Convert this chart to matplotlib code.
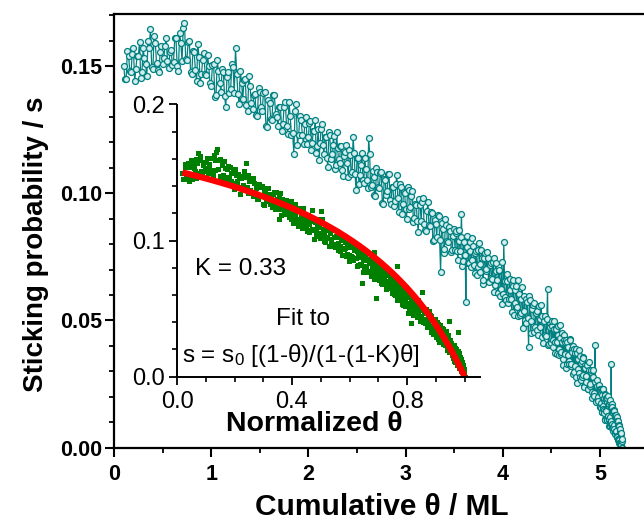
import matplotlib
matplotlib.use("Agg")
import matplotlib.pyplot as plt
import numpy as np
from matplotlib.ticker import MultipleLocator, FormatStrFormatter

plt.rcParams['font.family'] = ['Liberation Sans', 'DejaVu Sans']
plt.rcParams['mathtext.fontset'] = 'custom'
plt.rcParams['mathtext.rm'] = 'Liberation Sans'
plt.rcParams['mathtext.default'] = 'regular'

# Cumulative coverage (ML) and sticking probability, first pass of readings
theta_a = [
    0.100, 0.125, 0.150, 0.175, 0.200, 0.225, 0.250, 0.275, 0.300, 0.325,
    0.350, 0.375, 0.400, 0.425, 0.450, 0.475, 0.500, 0.525, 0.550, 0.575,
    0.600, 0.625, 0.650, 0.675, 0.700, 0.725, 0.750, 0.775, 0.800, 0.825,
    0.850, 0.875, 0.900, 0.925, 0.950, 0.975, 1.000, 1.025, 1.050, 1.075,
    1.100, 1.125, 1.150, 1.175, 1.200, 1.225, 1.250, 1.275, 1.300, 1.325,
    1.350, 1.375, 1.400, 1.425, 1.450, 1.475, 1.500, 1.525, 1.550, 1.575,
    1.600, 1.625, 1.650, 1.675, 1.700, 1.725, 1.750, 1.775, 1.800, 1.825,
    1.850, 1.875, 1.900, 1.925, 1.950, 1.975, 2.000,
    2.02, 2.04, 2.06, 2.08, 2.10, 2.12, 2.14, 2.16, 2.18, 2.20,
    2.22, 2.24, 2.26, 2.28, 2.30, 2.32, 2.34, 2.36, 2.38, 2.40,
    2.42, 2.44, 2.46, 2.48, 2.50, 2.52, 2.54, 2.56, 2.58, 2.60,
    2.62, 2.64, 2.66, 2.68, 2.70, 2.72, 2.74, 2.76, 2.78, 2.80,
    2.82, 2.84, 2.86, 2.88, 2.90, 2.92, 2.94, 2.96, 2.98, 3.00,
    3.02, 3.04, 3.06, 3.08, 3.10, 3.12, 3.14, 3.16, 3.18, 3.20,
    3.22, 3.24, 3.26, 3.28, 3.30, 3.32, 3.34, 3.36, 3.38, 3.40,
    3.42, 3.44, 3.46, 3.48, 3.50,
    3.515, 3.530, 3.545, 3.560, 3.575, 3.590, 3.605, 3.620, 3.635, 3.650,
    3.665, 3.680, 3.695, 3.710, 3.725, 3.740, 3.755, 3.770, 3.785, 3.800,
    3.815, 3.830, 3.845, 3.860, 3.875, 3.890, 3.905, 3.920, 3.935, 3.950,
    3.965, 3.980, 3.995, 4.010, 4.025, 4.040, 4.055, 4.070, 4.085, 4.100,
    4.115, 4.130, 4.145, 4.160, 4.175, 4.190, 4.205, 4.220, 4.235, 4.250,
    4.265, 4.280, 4.295, 4.310, 4.325, 4.340, 4.355, 4.370, 4.385, 4.400,
    4.415, 4.430, 4.445, 4.460, 4.475, 4.490,
    4.50, 4.51, 4.52, 4.53, 4.54, 4.55, 4.56, 4.57, 4.58, 4.59,
    4.60, 4.61, 4.62, 4.63, 4.64, 4.65, 4.66, 4.67, 4.68, 4.69,
    4.70, 4.71, 4.72, 4.73, 4.74, 4.75, 4.76, 4.77, 4.78, 4.79,
    4.80, 4.81, 4.82, 4.83, 4.84, 4.85, 4.86, 4.87, 4.88, 4.89,
    4.90, 4.91, 4.92, 4.93, 4.94, 4.95, 4.96, 4.97, 4.98, 4.99,
    5.000, 5.005, 5.010, 5.015, 5.020, 5.025, 5.030, 5.035, 5.040, 5.045,
    5.050, 5.055, 5.060, 5.065, 5.070, 5.075, 5.080, 5.085, 5.090, 5.095,
    5.100, 5.105, 5.110, 5.115, 5.120, 5.125, 5.130, 5.135, 5.140, 5.145,
    5.150, 5.155, 5.160, 5.165, 5.170, 5.175, 5.180, 5.185, 5.190, 5.195,
    5.200, 5.205, 5.210, 5.215, 5.220, 5.225, 5.230,
]

s_a = [
    0.1500, 0.1450, 0.1540, 0.1475, 0.1570, 0.1490, 0.1540, 0.1455, 0.1570, 0.1510,
    0.1600, 0.1645, 0.1490, 0.1590, 0.1485, 0.1555, 0.1510, 0.1580, 0.1520, 0.1555,
    0.1505, 0.1610, 0.1500, 0.1630, 0.1520, 0.1670, 0.1525, 0.1600, 0.1470, 0.1555,
    0.1440, 0.1535, 0.1470, 0.1550, 0.1465, 0.1500, 0.1420, 0.1510, 0.1385, 0.1480,
    0.1400, 0.1475, 0.1340, 0.1475, 0.1410, 0.1495, 0.1570, 0.1390, 0.1480, 0.1370,
    0.1450, 0.1325, 0.1420, 0.1330, 0.1390, 0.1305, 0.1400, 0.1325, 0.1400, 0.1260,
    0.1355, 0.1290, 0.1385, 0.1300, 0.1340, 0.1245, 0.1340, 0.1265, 0.1360, 0.1230,
    0.1155, 0.1350, 0.1230, 0.1290, 0.1195, 0.1300, 0.1220,
    0.1284, 0.1199, 0.1243, 0.1158, 0.1252, 0.1196, 0.1271, 0.1155, 0.1220, 0.1104,
    0.1228, 0.1153, 0.1227, 0.1112, 0.1176, 0.1120, 0.1185, 0.1069, 0.1164, 0.1118,
    0.1172, 0.1077, 0.1221, 0.1076, 0.1140, 0.1035, 0.1110, 0.1054, 0.1139, 0.1054,
    0.1219, 0.1024, 0.1088, 0.0993, 0.1098, 0.1023, 0.1078, 0.0962, 0.1057, 0.0992,
    0.1077, 0.0972, 0.1026, 0.0951, 0.1036, 0.0981, 0.1036, 0.0920, 0.1005, 0.0940,
    0.1024, 0.0937, 0.0991, 0.0885, 0.0958, 0.0892, 0.0976, 0.0889, 0.0983, 0.0856,
    0.0930, 0.0874, 0.0927, 0.0811, 0.0894, 0.0828, 0.0912, 0.0690, 0.0859, 0.0782,
    0.0876, 0.0810, 0.0853, 0.0777, 0.0860,
    0.0845, 0.0771, 0.0856, 0.0772, 0.0917, 0.0733, 0.0808, 0.0574, 0.0789, 0.0725,
    0.0810, 0.0736, 0.0791, 0.0687, 0.0772, 0.0708, 0.0803, 0.0689, 0.0744, 0.0660,
    0.0765, 0.0701, 0.0746, 0.0652, 0.0727, 0.0663, 0.0747, 0.0640, 0.0693, 0.0606,
    0.0700, 0.0623, 0.0566, 0.0809, 0.0592, 0.0656, 0.0569, 0.0662, 0.0585, 0.0659,
    0.0523, 0.0618, 0.0552, 0.0657, 0.0521, 0.0585, 0.0470, 0.0594, 0.0489, 0.0573,
    0.0397, 0.0582, 0.0496, 0.0560, 0.0455, 0.0529, 0.0464, 0.0558, 0.0472, 0.0517,
    0.0411, 0.0516, 0.0440, 0.0624, 0.0409, 0.0473,
    0.0410, 0.0496, 0.0421, 0.0467, 0.0372, 0.0468, 0.0413, 0.0479, 0.0364, 0.0430,
    0.0375, 0.0451, 0.0326, 0.0422, 0.0367, 0.0423, 0.0328, 0.0394, 0.0339, 0.0425,
    0.0320, 0.0386, 0.0291, 0.0387, 0.0322, 0.0388, 0.0253, 0.0349, 0.0294, 0.0360,
    0.0265, 0.0341, 0.0286, 0.0352, 0.0237, 0.0313, 0.0258, 0.0324, 0.0229, 0.0305,
    0.0250, 0.0303, 0.0196, 0.0279, 0.0202, 0.0405, 0.0178, 0.0241, 0.0184, 0.0247,
    0.0160, 0.0227, 0.0174, 0.0231, 0.0138, 0.0205, 0.0152, 0.0229, 0.0136, 0.0193,
    0.0110, 0.0207, 0.0144, 0.0191, 0.0108, 0.0195, 0.0122, 0.0169, 0.0086, 0.0173,
    0.0120, 0.0186, 0.0092, 0.0328, 0.0094, 0.0160, 0.0066, 0.0142, 0.0088, 0.0144,
    0.0060, 0.0126, 0.0061, 0.0126, 0.0041, 0.0106, 0.0041, 0.0106, 0.0030, 0.0084,
    0.0018, 0.0072, 0.0015, 0.0058, 0.0010, 0.0032, 0.0000,
]

# Second pass of readings, interleaved between the first
theta_b = [
    0.1125, 0.1375, 0.1625, 0.1875, 0.2125, 0.2375, 0.2625, 0.2875, 0.3125, 0.3375,
    0.3625, 0.3875, 0.4125, 0.4375, 0.4625, 0.4875, 0.5125, 0.5375, 0.5625, 0.5875,
    0.6125, 0.6375, 0.6625, 0.6875, 0.7125, 0.7375, 0.7625, 0.7875, 0.8125, 0.8375,
    0.8625, 0.8875, 0.9125, 0.9375, 0.9625, 0.9875, 1.0125, 1.0375, 1.0625, 1.0875,
    1.1125, 1.1375, 1.1625, 1.1875, 1.2125, 1.2375, 1.2625, 1.2875, 1.3125, 1.3375,
    1.3625, 1.3875, 1.4125, 1.4375, 1.4625, 1.4875, 1.5125, 1.5375, 1.5625, 1.5875,
    1.6125, 1.6375, 1.6625, 1.6875, 1.7125, 1.7375, 1.7625, 1.7875, 1.8125, 1.8375,
    1.8625, 1.8875, 1.9125, 1.9375, 1.9625, 1.9875,
    2.01, 2.03, 2.05, 2.07, 2.09, 2.11, 2.13, 2.15, 2.17, 2.19,
    2.21, 2.23, 2.25, 2.27, 2.29, 2.31, 2.33, 2.35, 2.37, 2.39,
    2.41, 2.43, 2.45, 2.47, 2.49, 2.51, 2.53, 2.55, 2.57, 2.59,
    2.61, 2.63, 2.65, 2.67, 2.69, 2.71, 2.73, 2.75, 2.77, 2.79,
    2.81, 2.83, 2.85, 2.87, 2.89, 2.91, 2.93, 2.95, 2.97, 2.99,
    3.01, 3.03, 3.05, 3.07, 3.09, 3.11, 3.13, 3.15, 3.17, 3.19,
    3.21, 3.23, 3.25, 3.27, 3.29, 3.31, 3.33, 3.35, 3.37, 3.39,
    3.41, 3.43, 3.45, 3.47, 3.49,
    3.508, 3.523, 3.538, 3.553, 3.568, 3.583, 3.598, 3.613, 3.628, 3.643,
    3.658, 3.673, 3.688, 3.703, 3.718, 3.733, 3.748, 3.763, 3.778, 3.793,
    3.808, 3.823, 3.838, 3.853, 3.868, 3.883, 3.898, 3.913, 3.928, 3.943,
    3.958, 3.973, 3.988, 4.003, 4.018, 4.033, 4.048, 4.063, 4.078, 4.093,
    4.108, 4.123, 4.138, 4.153, 4.168, 4.183, 4.198, 4.213, 4.228, 4.243,
    4.258, 4.273, 4.288, 4.303, 4.318, 4.333, 4.348, 4.363, 4.378, 4.393,
    4.408, 4.423, 4.438, 4.453, 4.468, 4.483,
    4.505, 4.515, 4.525, 4.535, 4.545, 4.555, 4.565, 4.575, 4.585, 4.595,
    4.605, 4.615, 4.625, 4.635, 4.645, 4.655, 4.665, 4.675, 4.685, 4.695,
    4.705, 4.715, 4.725, 4.735, 4.745, 4.755, 4.765, 4.775, 4.785, 4.795,
    4.805, 4.815, 4.825, 4.835, 4.845, 4.855, 4.865, 4.875, 4.885, 4.895,
    4.905, 4.915, 4.925, 4.935, 4.945, 4.955, 4.965, 4.975, 4.985, 4.995,
    5.0025, 5.0075, 5.0125, 5.0175, 5.0225, 5.0275, 5.0325, 5.0375, 5.0425, 5.0475,
    5.0525, 5.0575, 5.0625, 5.0675, 5.0725, 5.0775, 5.0825, 5.0875, 5.0925, 5.0975,
    5.1025, 5.1075, 5.1125, 5.1175, 5.1225, 5.1275, 5.1325, 5.1375, 5.1425, 5.1475,
    5.1525, 5.1575, 5.1625, 5.1675, 5.1725, 5.1775, 5.1825, 5.1875, 5.1925, 5.1975,
    5.2025, 5.2075, 5.2125, 5.2175, 5.2225, 5.2275,
]

s_b = [
    0.1450, 0.1560, 0.1480, 0.1548, 0.1440, 0.1540, 0.1593, 0.1478, 0.1530, 0.1460,
    0.1573, 0.1498, 0.1620, 0.1513, 0.1475, 0.1578, 0.1530, 0.1610, 0.1493, 0.1565,
    0.1518, 0.1610, 0.1480, 0.1590, 0.1650, 0.1528, 0.1593, 0.1475, 0.1558, 0.1483,
    0.1588, 0.1433, 0.1525, 0.1468, 0.1543, 0.1435, 0.1505, 0.1378, 0.1523, 0.1435,
    0.1488, 0.1383, 0.1458, 0.1393, 0.1508, 0.1393, 0.1470, 0.1350, 0.1435, 0.1445,
    0.1348, 0.1463, 0.1355, 0.1385, 0.1308, 0.1413, 0.1338, 0.1393, 0.1265, 0.1368,
    0.1293, 0.1388, 0.1313, 0.1265, 0.1338, 0.1273, 0.1358, 0.1233, 0.1305, 0.1238,
    0.1323, 0.1190, 0.1305, 0.1228, 0.1273, 0.1195,
    0.1277, 0.1171, 0.1246, 0.1290, 0.1185, 0.1129, 0.1253, 0.1188, 0.1222, 0.1137,
    0.1241, 0.1135, 0.1190, 0.1094, 0.1239, 0.1133, 0.1187, 0.1092, 0.1146, 0.1191,
    0.1065, 0.1149, 0.1084, 0.1158, 0.1013, 0.1137, 0.1072, 0.1157, 0.1041, 0.1096,
    0.1021, 0.1156, 0.1031, 0.1065, 0.0990, 0.1085, 0.1020, 0.1085, 0.0959, 0.1054,
    0.1009, 0.1074, 0.0959, 0.1023, 0.0968, 0.1073, 0.0928, 0.1023, 0.0957, 0.1002,
    0.0897, 0.1011, 0.0944, 0.1008, 0.0901, 0.0955, 0.0849, 0.0952, 0.0966, 0.0879,
    0.0853, 0.0967, 0.0870, 0.0924, 0.0817, 0.0881, 0.0915, 0.0818, 0.0882, 0.0765,
    0.0899, 0.0813, 0.0866, 0.0770, 0.0833,
    0.0777, 0.0853, 0.0738, 0.0814, 0.0829, 0.0715, 0.0810, 0.0756, 0.0831, 0.0727,
    0.0772, 0.0708, 0.0823, 0.0719, 0.0764, 0.0680, 0.0775, 0.0721, 0.0776, 0.0642,
    0.0747, 0.0693, 0.0768, 0.0654, 0.0719, 0.0665, 0.0730, 0.0613, 0.0726, 0.0660,
    0.0693, 0.0596, 0.0729, 0.0603, 0.0656, 0.0579, 0.0682, 0.0585, 0.0619, 0.0532,
    0.0636, 0.0570, 0.0635, 0.0519, 0.0604, 0.0528, 0.0632, 0.0537, 0.0501, 0.0586,
    0.0510, 0.0594, 0.0449, 0.0543, 0.0568, 0.0472, 0.0536, 0.0441, 0.0505, 0.0560,
    0.0434, 0.0498, 0.0443, 0.0507, 0.0402, 0.0486,
    0.0478, 0.0394, 0.0499, 0.0415, 0.0470, 0.0366, 0.0441, 0.0387, 0.0482, 0.0368,
    0.0413, 0.0349, 0.0444, 0.0370, 0.0415, 0.0311, 0.0416, 0.0362, 0.0327, 0.0423,
    0.0328, 0.0374, 0.0399, 0.0295, 0.0370, 0.0276, 0.0371, 0.0307, 0.0382, 0.0278,
    0.0333, 0.0279, 0.0354, 0.0240, 0.0325, 0.0281, 0.0326, 0.0232, 0.0337, 0.0243,
    0.0297, 0.0220, 0.0303, 0.0216, 0.0259, 0.0182, 0.0265, 0.0198, 0.0241, 0.0164,
    0.0229, 0.0156, 0.0213, 0.0140, 0.0227, 0.0164, 0.0231, 0.0148, 0.0185, 0.0112,
    0.0209, 0.0146, 0.0193, 0.0110, 0.0177, 0.0124, 0.0201, 0.0108, 0.0165, 0.0112,
    0.0178, 0.0084, 0.0160, 0.0106, 0.0172, 0.0078, 0.0134, 0.0080, 0.0146, 0.0072,
    0.0118, 0.0054, 0.0119, 0.0064, 0.0119, 0.0044, 0.0089, 0.0033, 0.0087, 0.0031,
    0.0065, 0.0019, 0.0052, 0.0014, 0.0026, 0.0000,
]

# Saturation coverage used for normalisation, and fit parameters
theta_sat = 5.23
s0 = 0.151
K = 0.33

theta_all = np.concatenate([theta_a, theta_b])
s_all = np.concatenate([s_a, s_b])
order = np.argsort(theta_all)
theta = theta_all[order]
s = s_all[order]
theta_norm = theta / theta_sat

fit_theta = np.linspace(theta_norm[0], 1.0, 300)
fit_s = s0 * (1 - fit_theta) / (1 - (1 - K) * fit_theta)

TEAL = '#008080'
GREEN = '#008000'

fig = plt.figure(figsize=(6.44, 5.22), dpi=100)

# Main panel
ax = fig.add_axes([114 / 644, 74.5 / 522, 530 / 644, 433.5 / 522])
ax.plot(theta, s, '-o', color=TEAL, lw=0.9, ms=4.3, mfc='#d4eded',
        mec=TEAL, mew=0.9)
ax.set_xlim(0, 530 / 97.2)
ax.set_ylim(0, 0.1705)
ax.spines['right'].set_visible(False)
for sp in ('left', 'bottom', 'top'):
    ax.spines[sp].set_linewidth(1.6)
ax.xaxis.set_major_locator(MultipleLocator(1))
ax.xaxis.set_minor_locator(MultipleLocator(0.5))
ax.yaxis.set_major_locator(MultipleLocator(0.05))
ax.yaxis.set_minor_locator(MultipleLocator(0.01))
ax.xaxis.set_major_formatter(FormatStrFormatter('%d'))
ax.yaxis.set_major_formatter(FormatStrFormatter('%.2f'))
ax.tick_params(which='major', direction='out', length=6.5, width=1.5,
               labelsize=15.5)
ax.tick_params(axis='x', which='major', pad=5.4)
ax.tick_params(axis='y', which='major', pad=1.8)
ax.tick_params(which='minor', direction='out', length=3.6, width=1.3)
ax.tick_params(top=False, right=False, which='both')
for lab in ax.get_xticklabels() + ax.get_yticklabels():
    lab.set_fontweight('bold')
ax.set_xlabel('Cumulative θ / ML', fontsize=21.5, fontweight='bold')
ax.set_ylabel('Sticking probability / s', fontsize=20, fontweight='bold')
ax.xaxis.set_label_coords(0.506, -0.105)
ax.yaxis.set_label_coords(-0.122, 0.47)

# Inset: normalised coverage with fit
axin = fig.add_axes([177 / 644, 145.5 / 522, 303 / 644, 272 / 522])
axin.patch.set_alpha(0)
axin.plot(theta_norm, s, 's', color=GREEN, ms=3.6, mew=0)
axin.plot(fit_theta, fit_s, color='#ff0000', lw=4.5, solid_capstyle='butt')
axin.set_xlim(0, 303 / 287.5)
axin.set_ylim(0, 0.2)
axin.spines['right'].set_visible(False)
axin.spines['top'].set_visible(False)
for sp in ('left', 'bottom'):
    axin.spines[sp].set_linewidth(1.4)
axin.xaxis.set_major_locator(MultipleLocator(0.4))
axin.xaxis.set_minor_locator(MultipleLocator(0.1))
axin.yaxis.set_major_locator(MultipleLocator(0.1))
axin.yaxis.set_minor_locator(MultipleLocator(0.02))
axin.xaxis.set_major_formatter(FormatStrFormatter('%.1f'))
axin.yaxis.set_major_formatter(FormatStrFormatter('%.1f'))
axin.tick_params(which='major', direction='out', length=6, width=1.3,
                 labelsize=17, pad=3)
axin.tick_params(axis='x', which='major', pad=4.2)
axin.tick_params(which='minor', direction='out', length=3.6, width=1.2)
axin.set_xlabel('Normalized θ', fontsize=20.5, fontweight='bold')
axin.xaxis.set_label_coords(0.452, -0.127)

axin.text(0.061, 0.0794, 'K = 0.33', fontsize=17.5, va='center')
axin.text(0.437, 0.0426, 'Fit to', fontsize=17.5, ha='center', va='center')
axin.text(0.019, 0.0154, r's = s$_0$ [(1-θ)/(1-(1-K)θ]', fontsize=17.5,
          va='center')

fig.savefig('out.png', dpi=100)
